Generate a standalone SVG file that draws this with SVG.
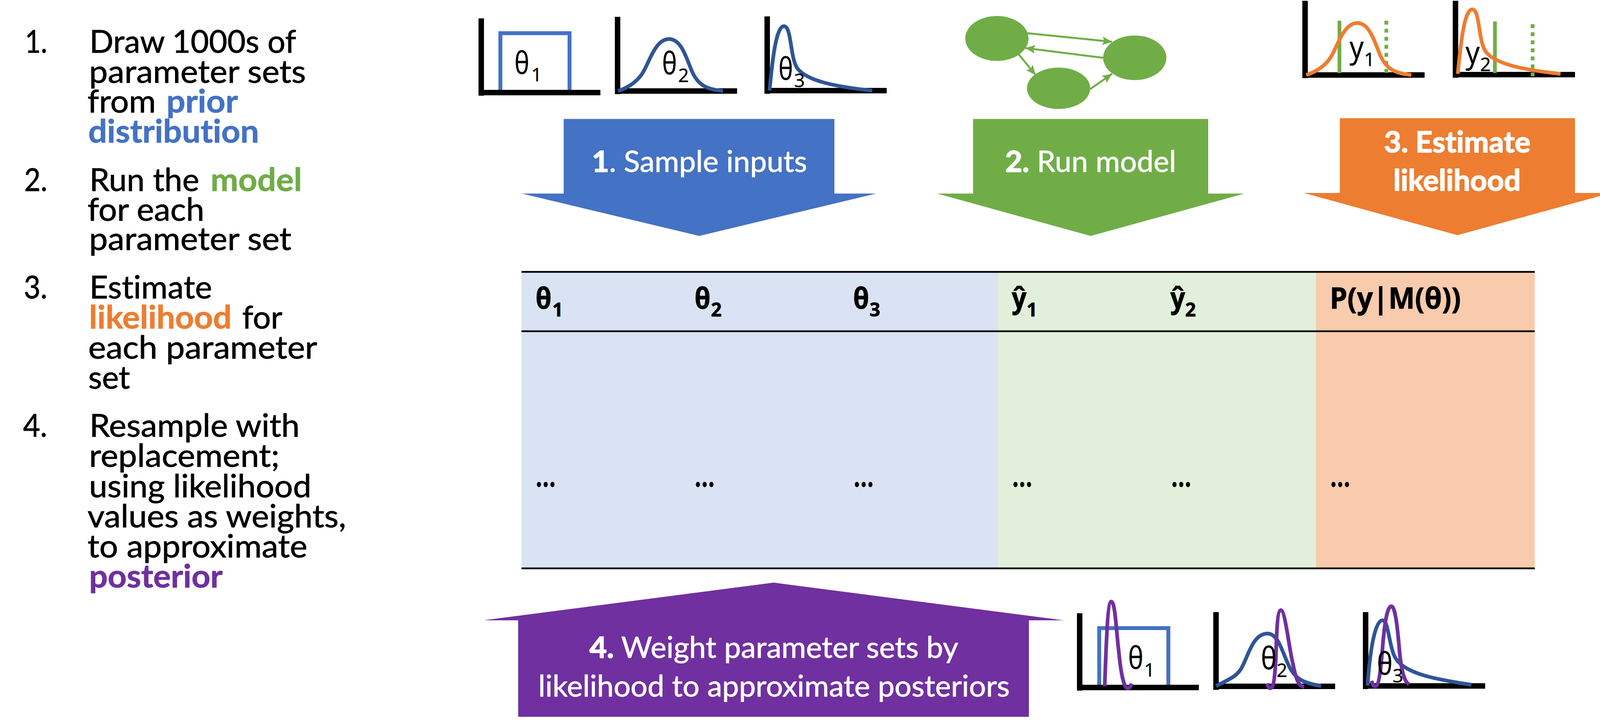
<svg xmlns="http://www.w3.org/2000/svg" width="4129" height="1856" viewBox="0 0 4129 1856">
<style>
text{font-family:"Lato","Carlito","Open Sans",sans-serif;font-size:82px;fill:#000;stroke:#000;stroke-width:1;font-variant-ligatures:none}
.b{font-weight:700}
.w{fill:#fff;stroke:#fff;font-size:75px}
.wb{stroke-width:2}
.blt{fill:#4472C4;stroke:#4472C4}
.grt{fill:#70AD47;stroke:#70AD47}
.ort{fill:#ED7D31;stroke:#ED7D31}
.put{fill:#7030A0;stroke:#7030A0}
.sym{font-family:"Open Sans","Noto Sans",sans-serif;font-size:78px;stroke-width:.6}
.sub{font-family:"Open Sans","Noto Sans",sans-serif;font-size:48px;stroke-width:.6}
.hd{font-family:"Open Sans","Noto Sans",sans-serif;font-weight:700;font-size:76px}
.hs{font-family:"Open Sans","Noto Sans",sans-serif;font-weight:700;font-size:48px}
.ax{fill:none;stroke:#000;stroke-width:14}
.bl{fill:none;stroke:#4472C4;stroke-width:10}
.db{fill:none;stroke:#2F5597;stroke-width:9.5}
.or{fill:none;stroke:#ED7D31;stroke-width:9.5}
.pu{fill:none;stroke:#7030A0;stroke-width:9.5}
.gs{stroke:#70AD47;stroke-width:9.5;fill:none}
.gd{stroke:#70AD47;stroke-width:9.5;fill:none;stroke-dasharray:10 10.6}
.cn{stroke:#70AD47;stroke-width:5;fill:none;marker-end:url(#ah)}
.rule{stroke:#000;stroke-width:4.5}
.gn{fill:#70AD47}
</style>
<defs>
<marker id="ah" markerUnits="userSpaceOnUse" markerWidth="26" markerHeight="22" refX="25" refY="11" orient="auto"><path d="M0 0L25 11L0 22L5 11Z" fill="#70AD47"/></marker>
<path id="ba" d="M1582 233C1615 222 1636 205 1649 180C1665 150 1680 100 1713 100C1745 100 1757 150 1773 186C1790 222 1815 229 1851 233"/>
<path id="sk" d="M1970 232C1976 170 1985 67 2007 67C2027 67 2022 150 2042 176C2068 208 2140 222 2233 232"/>
</defs>
<rect width="4129" height="1856" fill="#fff"/>

<g id="steps-list">
<text x="64" y="135" textLength="57" lengthAdjust="spacingAndGlyphs">1.</text>
<text x="229" y="135" textLength="529" lengthAdjust="spacingAndGlyphs">Draw 1000s of</text>
<text x="228" y="212" textLength="555" lengthAdjust="spacingAndGlyphs">parameter sets</text>
<text y="288"><tspan x="224" textLength="175" lengthAdjust="spacingAndGlyphs">from</tspan> <tspan x="426" class="b blt" textLength="183" lengthAdjust="spacingAndGlyphs">prior</tspan></text>
<text x="226" y="365" class="b blt" textLength="437" lengthAdjust="spacingAndGlyphs">distribution</text>
<text x="62" y="489" textLength="59" lengthAdjust="spacingAndGlyphs">2.</text>
<text y="489"><tspan x="229" textLength="281" lengthAdjust="spacingAndGlyphs">Run the</tspan> <tspan x="539" class="b grt" textLength="234" lengthAdjust="spacingAndGlyphs">model</tspan></text>
<text x="224" y="565" textLength="299" lengthAdjust="spacingAndGlyphs">for each</text>
<text x="228" y="640" textLength="518" lengthAdjust="spacingAndGlyphs">parameter set</text>
<text x="61" y="764" textLength="60" lengthAdjust="spacingAndGlyphs">3.</text>
<text x="229" y="764" textLength="314" lengthAdjust="spacingAndGlyphs">Estimate</text>
<text y="841"><tspan x="228" class="b ort" textLength="365" lengthAdjust="spacingAndGlyphs">likelihood</tspan> <tspan x="620" textLength="103" lengthAdjust="spacingAndGlyphs">for</tspan></text>
<text x="226" y="918" textLength="586" lengthAdjust="spacingAndGlyphs">each parameter</text>
<text x="226" y="995" textLength="107" lengthAdjust="spacingAndGlyphs">set</text>
<text x="59" y="1118" textLength="62" lengthAdjust="spacingAndGlyphs">4.</text>
<text x="229" y="1118" textLength="538" lengthAdjust="spacingAndGlyphs">Resample with</text>
<text x="228" y="1195" textLength="488" lengthAdjust="spacingAndGlyphs">replacement;</text>
<text x="228" y="1273" textLength="569" lengthAdjust="spacingAndGlyphs">using likelihood</text>
<text x="224" y="1350" textLength="662" lengthAdjust="spacingAndGlyphs">values as weights,</text>
<text x="224" y="1427" textLength="563" lengthAdjust="spacingAndGlyphs">to approximate</text>
<text x="228" y="1504" class="b put" textLength="342" lengthAdjust="spacingAndGlyphs">posterior</text>
</g>

<g id="prior-theta1">
<path class="bl" d="M1281 232V85H1458V232"/>
<path class="ax" d="M1232 47V245M1225 237H1537"/>
<text class="sym" x="1317" y="189" textLength="38" lengthAdjust="spacingAndGlyphs">θ</text><text class="sub" x="1360" y="208">1</text>
</g>
<g id="prior-theta2">
<path class="ax" d="M1581 43V241M1574 233H1887"/>
<use href="#ba" class="db"/>
<text class="sym" x="1695" y="190" textLength="38" lengthAdjust="spacingAndGlyphs">θ</text><text class="sub" x="1736" y="210">2</text>
</g>
<g id="prior-theta3">
<path class="ax" d="M1964 42V240M1957 232H2270"/>
<use href="#sk" class="db"/>
<text class="sym" x="1993" y="204" textLength="37" lengthAdjust="spacingAndGlyphs">θ</text><text class="sub" x="2033" y="223">3</text>
</g>

<g id="model-node-a"><ellipse class="gn" cx="2552" cy="98.5" rx="81" ry="57.5"/></g>
<g id="model-node-b"><ellipse class="gn" cx="2905" cy="148" rx="81" ry="57"/></g>
<g id="model-node-c"><ellipse class="gn" cx="2710" cy="226" rx="81" ry="53"/></g>
<g id="connectors">
<line class="cn" x1="2630" y1="85" x2="2847" y2="107"/>
<line class="cn" x1="2824" y1="148" x2="2625" y2="123"/>
<line class="cn" x1="2608" y1="139" x2="2651" y2="192"/>
<line class="cn" x1="2791" y1="228" x2="2847" y2="189"/>
</g>

<g id="likelihood-y1">
<path class="ax" d="M3341 2V200M3335 192H3647"/>
<path class="gs" d="M3429 53V187"/><path class="gd" d="M3549 53V187"/>
<use href="#ba" class="or" transform="translate(1762,-41)"/>
<text class="sym" x="3455" y="149" textLength="36" lengthAdjust="spacingAndGlyphs">y</text><text class="sub" x="3492" y="169">1</text>
</g>
<g id="likelihood-y2">
<path class="ax" d="M3726 2V199M3719 191H4032"/>
<path class="gs" d="M3827 55V187"/><path class="gd" d="M3923.5 62V196"/>
<use href="#sk" class="or" transform="translate(1762,-43)"/>
<text class="sym" x="3752" y="162" textLength="36" lengthAdjust="spacingAndGlyphs">y</text><text class="sub" x="3789" y="182">2</text>
</g>

<g id="step-1">
<path fill="#4472C4" d="M1443 304.5H2136V495.5H2243L1790 604L1336 495.5H1443Z"/>
<text class="w" x="1515" y="440" textLength="551" lengthAdjust="spacingAndGlyphs"><tspan class="b wb">1</tspan>. Sample inputs</text>
</g>
<g id="step-2">
<path fill="#70AD47" d="M2491 304.5H3093V495.5H3186L2792 604L2399 495.5H2491Z"/>
<text class="w" x="2573" y="440" textLength="438" lengthAdjust="spacingAndGlyphs"><tspan class="b wb">2.</tspan> Run model</text>
</g>
<g id="step-3">
<path fill="#ED7D31" d="M3430 302.5H4032V494H4124L3731 602L3338 494H3430Z"/>
<text class="w b wb" x="3543" y="389.5" textLength="375" lengthAdjust="spacingAndGlyphs">3. Estimate</text>
<text class="w b wb" x="3567" y="488" textLength="326" lengthAdjust="spacingAndGlyphs">likelihood</text>
</g>

<g id="sample-table">
<rect x="1335" y="696" width="1220" height="759" fill="#DAE3F3"/>
<rect x="2555" y="696" width="814" height="759" fill="#E2EFDA"/>
<rect x="3369" y="696" width="560" height="759" fill="#F7CBAC"/>
<path class="rule" d="M1335 696H3929M1335 848H3929M1335 1455H3929"/>
<text class="hd" x="1371" y="790" textLength="41" lengthAdjust="spacingAndGlyphs">θ</text><text class="hs" x="1414" y="810">1</text>
<text class="hd" x="1778" y="790" textLength="41" lengthAdjust="spacingAndGlyphs">θ</text><text class="hs" x="1820" y="810">2</text>
<text class="hd" x="2184" y="790" textLength="41" lengthAdjust="spacingAndGlyphs">θ</text><text class="hs" x="2226" y="810">3</text>
<text class="hd" x="2590" y="789" textLength="38" lengthAdjust="spacingAndGlyphs">ŷ</text><text class="hs" x="2628" y="810">1</text>
<text class="hd" x="2996" y="789" textLength="38" lengthAdjust="spacingAndGlyphs">ŷ</text><text class="hs" x="3034" y="810">2</text>
<text class="hd" x="3404" y="790" textLength="336" lengthAdjust="spacingAndGlyphs">P(y|M(θ))</text>
<g class="dots">
<text class="b" x="1372" y="1246" textLength="50" lengthAdjust="spacingAndGlyphs">…</text>
<text class="b" x="1779" y="1246" textLength="50" lengthAdjust="spacingAndGlyphs">…</text>
<text class="b" x="2186" y="1246" textLength="50" lengthAdjust="spacingAndGlyphs">…</text>
<text class="b" x="2592" y="1246" textLength="50" lengthAdjust="spacingAndGlyphs">…</text>
<text class="b" x="2999" y="1246" textLength="50" lengthAdjust="spacingAndGlyphs">…</text>
<text class="b" x="3406" y="1246" textLength="50" lengthAdjust="spacingAndGlyphs">…</text>
</g>
</g>

<g id="step-4">
<path fill="#7030A0" d="M1980.5 1491.5L2723 1588H2634V1835H1326.5V1588H1238Z"/>
<text class="w" x="1509" y="1684" textLength="944" lengthAdjust="spacingAndGlyphs"><tspan class="b wb">4.</tspan> Weight parameter sets by</text>
<text class="w" x="1378" y="1783" textLength="1207" lengthAdjust="spacingAndGlyphs">likelihood to approximate posteriors</text>
</g>

<g id="posterior-theta1">
<path class="bl" d="M2814 1755V1608H2991V1755"/>
<path class="ax" d="M2764 1570V1768M2757 1760H3069"/>
<path class="pu" d="M2828 1757C2832 1650 2835 1540 2845 1540C2855 1540 2858 1620 2864 1667C2870 1730 2878 1762 2887 1762C2892 1762 2894 1757 2897 1750"/>
<text class="sym" x="2888" y="1712" textLength="39" lengthAdjust="spacingAndGlyphs">θ</text><text class="sub" x="2929" y="1732">1</text>
</g>
<g id="posterior-theta2">
<path class="ax" d="M3113 1567V1766M3106 1757H3418"/>
<path class="db" d="M3113 1756C3150 1738 3170 1730 3182 1703C3198 1670 3210 1622 3245 1622C3275 1622 3285 1680 3304 1713C3320 1742 3345 1750 3382 1756"/>
<path class="pu" d="M3243 1750C3246 1756 3248 1762 3252 1762C3262 1762 3264 1720 3266 1690C3268 1620 3270 1562 3279 1562C3290 1562 3300 1660 3310 1700C3318 1740 3325 1758 3339 1758"/>
<text class="sym" x="3228" y="1713" textLength="40" lengthAdjust="spacingAndGlyphs">θ</text><text class="sub" x="3268" y="1733">2</text>
</g>
<g id="posterior-theta3">
<path class="ax" d="M3496 1567V1764M3490 1756H3802"/>
<path class="db" d="M3501 1755C3506 1680 3518 1588 3539 1588C3555 1588 3555 1650 3570 1680C3590 1725 3680 1740 3767 1753"/>
<path class="pu" d="M3511 1743C3514 1752 3516 1757 3520 1757C3532 1757 3536 1700 3540 1650C3545 1590 3552 1552 3562 1552C3572 1552 3578 1610 3583 1670C3588 1720 3595 1745 3607 1752"/>
<text class="sym" x="3525" y="1727" textLength="40" lengthAdjust="spacingAndGlyphs">θ</text><text class="sub" x="3565" y="1747">3</text>
</g>
</svg>
